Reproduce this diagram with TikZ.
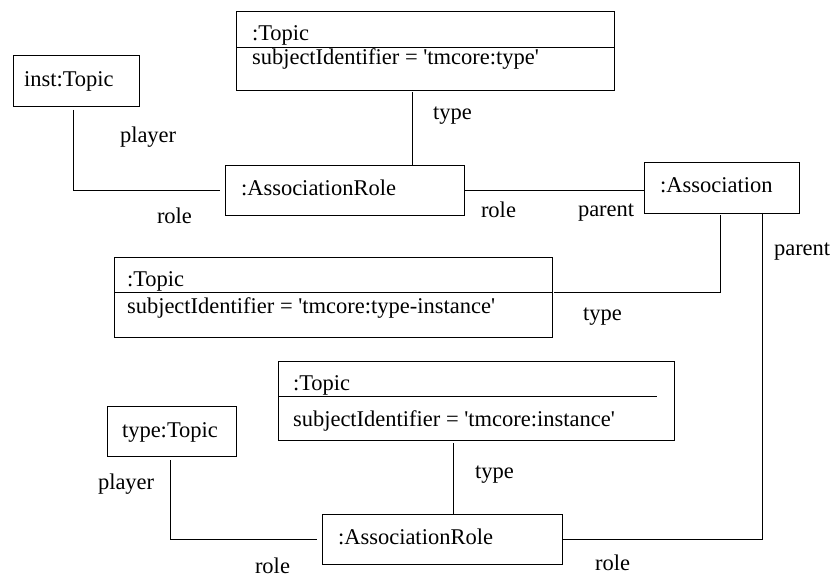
\documentclass[tikz,border=0pt]{standalone}
\usepackage{fontspec}
\setmainfont{Liberation Serif}
\usetikzlibrary{calc}
\tikzset{
  box/.style={draw, line width=0.9pt, rectangle, inner sep=0pt, outer sep=0pt},
  lbl/.style={anchor=base west, inner sep=0pt, outer sep=0pt, font=\fontsize{22.5}{27}\selectfont},
  conn/.style={draw, line width=0.9pt},
}
\newcommand{\sq}{\textquotesingle}
\begin{document}
\begin{tikzpicture}[x=1pt,y=-1pt]
\useasboundingbox (0,0) rectangle (832,577);
% boxes
\node[box, minimum width=378pt, minimum height=79pt] (topic1) at (425,50.5) {};
\node[box, minimum width=126pt, minimum height=51pt] (inst) at (76,80.5) {};
\node[box, minimum width=239pt, minimum height=50pt] (ar1) at (344.5,190) {};
\node[box, minimum width=155pt, minimum height=51pt] (assoc) at (721.5,187.5) {};
\node[box, minimum width=438pt, minimum height=80pt] (topic2) at (333,297) {};
\node[box, minimum width=396pt, minimum height=79pt] (topic3) at (476,400.5) {};
\node[box, minimum width=129pt, minimum height=50pt] (typet) at (171.5,431) {};
\node[box, minimum width=240pt, minimum height=50pt] (ar2) at (442,539) {};
% dividers
\draw[conn] ($(topic1.north west)+(0,36)$) -- ($(topic1.north east)+(0,36)$);
\draw[conn] ($(topic2.north west)+(0,35)$) -- ($(topic2.north east)+(0,35)$);
\draw[conn] ($(topic3.north west)+(0,35)$) -- ($(topic3.north west)+(379,35)$);
% texts
\node[lbl] (t1a) at (252,41) {:Topic};
\node[lbl] (t1b) at (252,65) {subjectIdentifier = \sq tmcore:type\sq};
\node[lbl] (insttx) at (24,87) {inst:Topic};
\node[lbl] (pl1) at (120,143) {player};
\node[lbl] (ro1) at (157,224) {role};
\node[lbl] (ar1tx) at (241,196) {:AssociationRole};
\node[lbl] (ty1) at (433,120) {type};
\node[lbl] (ro2) at (481,218) {role};
\node[lbl] (pa1) at (578,217) {parent};
\node[lbl] (astx) at (660,193) {:Association};
\node[lbl] (pa2) at (774,255) {parent};
\node[lbl] (t2a) at (127,287) {:Topic};
\node[lbl] (t2b) at (127,313) {subjectIdentifier = \sq tmcore:type-instance\sq};
\node[lbl] (ty2) at (583,320) {type};
\node[lbl] (t3a) at (293,390) {:Topic};
\node[lbl] (t3b) at (293,426) {subjectIdentifier = \sq tmcore:instance\sq};
\node[lbl] (typetx) at (122,437) {type:Topic};
\node[lbl] (pl2) at (98,489) {player};
\node[lbl] (ty3) at (475,478) {type};
\node[lbl] (ar2tx) at (338,544) {:AssociationRole};
\node[lbl] (ro3) at (255,573) {role};
\node[lbl] (ro4) at (595,570) {role};
% connectors
\coordinate (c1) at ($(inst.south)+(-3,4)$);
\coordinate (c1e) at ($(ar1.west)+(-5,0)$);
\draw[conn] (c1) |- (c1e);
\coordinate (c2) at ($(topic1.south west)+(176,2)$);
\draw[conn] (c2) -- (c2 |- ar1.north);
\draw[conn] (ar1.east) -- (ar1.east -| assoc.west);
\coordinate (c3) at ($(assoc.south west)+(76,2)$);
\coordinate (c3e) at ($(topic2.north east)+(2,35)$);
\draw[conn] (c3) |- (c3e);
\coordinate (c4) at ($(assoc.south west)+(118,0)$);
\draw[conn] (c4) |- (ar2.east);
\coordinate (c5) at ($(typet.south)+(-1,4)$);
\coordinate (c5e) at ($(ar2.west)+(-5,0)$);
\draw[conn] (c5) |- (c5e);
\coordinate (c6) at ($(topic3.south west)+(175,3)$);
\draw[conn] (c6) -- (c6 |- ar2.north);
\end{tikzpicture}
\end{document}
